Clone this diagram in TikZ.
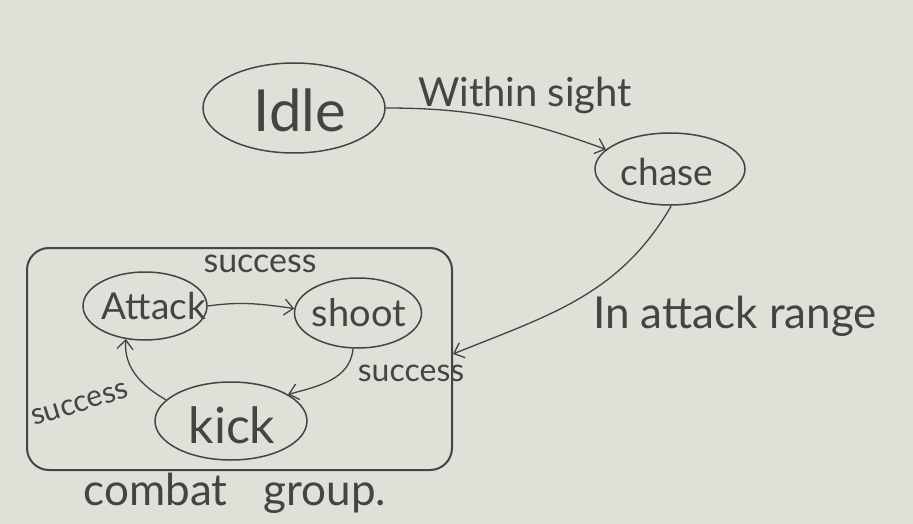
\documentclass[tikz,border=0pt]{standalone}
\usepackage{fontspec}
\setmainfont{Lato}
\usetikzlibrary{shapes.geometric,arrows.meta}
\definecolor{paper}{RGB}{224,223,216}
\definecolor{ink}{RGB}{68,68,66}
\tikzset{
  state/.style={ellipse,draw=ink,line width=1.5pt,inner sep=0pt,text=ink},
  hand/.style={text=ink,inner sep=0pt},
  edge/.style={draw=ink,line width=1.3pt,-{Straight Barb[length=9pt,width=16pt,line width=1.3pt]}},
  groupbox/.style={draw=ink,line width=2pt,rounded corners=22pt,inner sep=0pt}
}
\newcommand{\hs}[1]{\fontsize{#1}{#1}\selectfont}
\begin{document}
\begin{tikzpicture}[x=1pt,y=1pt]
  % paper
  \fill[paper] (0,0) rectangle (913,-524);
  \useasboundingbox (0,0) rectangle (913,-524);

  % combat group frame
  \node[groupbox,minimum width=425pt,minimum height=222pt] (box) at (239.5,-359) {};
  \node[hand] (grouplbl) at (235,-493) {\hs{44}combat\hspace{36pt}group.};

  % states
  \node[state,minimum width=182pt,minimum height=90pt] (idle) at (294,-108) {};
  \node[state,minimum width=150pt,minimum height=72pt] (chase) at (670,-169) {};
  \node[state,minimum width=124pt,minimum height=68pt] (attack) at (145,-306) {};
  \node[state,minimum width=127pt,minimum height=70pt] (shoot) at (358,-313) {};
  \node[state,minimum width=152pt,minimum height=78pt] (kick) at (231,-421) {};

  % state names
  \node[hand] (tidle) at (300,-110) {\hs{58}Idle};
  \node[hand] (tchase) at (667,-172) {\hs{37}chase};
  \node[hand] (tattack) at (154,-306) {\hs{37}Attack};
  \node[hand] (tshoot) at (359,-313) {\hs{38}shoot};
  \node[hand] (tkick) at (232,-425) {\hs{50}kick};

  % transitions
  \coordinate (boxin) at ([yshift=5pt]box.east);
  \draw[edge] (idle.east) to[out=0,in=160] (chase.163);
  \draw[edge] (chase.272) to[out=240,in=22] (boxin);
  \draw[edge] (attack.east) to[out=8,in=172] (shoot.176);
  \draw[edge] (shoot.262) to[out=265,in=15] (kick.25);
  \draw[edge] (kick.162) to[out=150,in=265] (attack.240);

  % transition labels
  \node[hand] (lsight) at (525,-95) {\hs{40}Within sight};
  \node[hand] (lrange) at (735,-316) {\hs{44}In attack range};
  \node[hand] (ltop) at (260,-264) {\hs{34}success};
  \node[hand] (lright) at (411,-373) {\hs{32}success};
  \node[hand,rotate=17] (lleft) at (80,-404) {\hs{30}success};
\end{tikzpicture}
\end{document}
